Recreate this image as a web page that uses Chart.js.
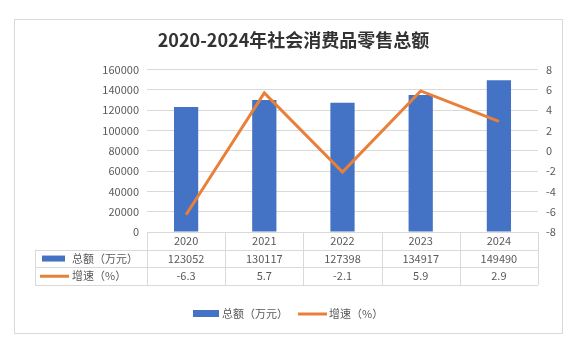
<!DOCTYPE html>
<html>
<head>
<meta charset="utf-8">
<script src="https://cdn.jsdelivr.net/npm/chart.js@4/dist/chart.umd.min.js"></script>
<style>
  html, body { margin: 0; padding: 0; background: #fff; }
  #wrap { position: relative; width: 587px; height: 351px; }
</style>
</head>
<body>
<div id="wrap"><canvas id="c"></canvas></div>
<script>
'use strict';

// data
const years = ['2020', '2021', '2022', '2023', '2024'];
const totals = [123052, 130117, 127398, 134917, 149490];
const growth = [-6.3, 5.7, -2.1, 5.9, 2.9];
const totalLabel = '总额（万元）';
const growthLabel = '增速（%）';
const titleText = '2020-2024年社会消费品零售总额';
const leftRange = { min: 0, max: 160000, step: 20000 };
const rightRange = { min: -8, max: 8, step: 2 };

const BLUE = '#4472C4';
const ORANGE = '#E8803A';
const GRID = '#d9d9d9';
const TEXT = '#595959';
const FONT = "'Noto Sans CJK SC', 'Noto Sans', sans-serif";

// frame, data table and legend in the Excel style
const tablePlugin = {
  id: 'excelTable',
  beforeDraw(chart) {
    const { ctx } = chart;
    ctx.save();
    ctx.fillStyle = '#fff';
    ctx.fillRect(0, 0, chart.width, chart.height);
    ctx.strokeStyle = GRID;
    ctx.lineWidth = 1;
    ctx.strokeRect(14.5, 19.5, 548, 314);
    ctx.restore();
  },
  afterDraw(chart) {
    const { ctx, chartArea } = chart;
    const x = chart.scales.x;
    const half = (x.getPixelForValue(1) - x.getPixelForValue(0)) / 2;
    const rowH = 17.7;
    const top = chartArea.bottom;
    const rows = [top, top + rowH, top + rowH * 2, top + rowH * 3];
    const tableLeft = 35;

    ctx.save();
    ctx.strokeStyle = GRID;
    ctx.lineWidth = 1;
    ctx.beginPath();
    ctx.moveTo(x.left, Math.round(rows[0]) + 0.5);
    ctx.lineTo(x.right, Math.round(rows[0]) + 0.5);
    for (let r = 1; r < 4; r++) {
      ctx.moveTo(tableLeft, Math.round(rows[r]) + 0.5);
      ctx.lineTo(x.right, Math.round(rows[r]) + 0.5);
    }
    for (let i = 0; i <= years.length; i++) {
      const px = Math.round(x.getPixelForValue(i) - half) + 0.5;
      ctx.moveTo(px, rows[0]);
      ctx.lineTo(px, rows[3]);
    }
    ctx.moveTo(tableLeft + 0.5, rows[1]);
    ctx.lineTo(tableLeft + 0.5, rows[3]);
    ctx.stroke();

    ctx.fillStyle = TEXT;
    ctx.font = '11px ' + FONT;
    ctx.textAlign = 'center';
    ctx.textBaseline = 'middle';
    years.forEach((yr, i) => {
      const cx = x.getPixelForValue(i);
      ctx.fillText(yr, cx, rows[0] + rowH / 2);
      ctx.fillText(String(totals[i]), cx, rows[1] + rowH / 2);
      ctx.fillText(growth[i].toFixed(1), cx, rows[2] + rowH / 2);
    });

    // series keys in the table
    ctx.textAlign = 'left';
    ctx.fillStyle = BLUE;
    ctx.fillRect(42, rows[1] + rowH / 2 - 3, 23, 6);
    ctx.strokeStyle = ORANGE;
    ctx.lineWidth = 3;
    ctx.beginPath();
    ctx.moveTo(40, rows[2] + rowH / 2);
    ctx.lineTo(69, rows[2] + rowH / 2);
    ctx.stroke();
    ctx.fillStyle = TEXT;
    ctx.fillText(totalLabel, 72, rows[1] + rowH / 2);
    ctx.fillText(growthLabel, 72, rows[2] + rowH / 2);

    // legend below the table
    const ly = 314;
    ctx.fillStyle = BLUE;
    ctx.fillRect(193, ly - 4, 26, 7);
    ctx.beginPath();
    ctx.moveTo(298, ly);
    ctx.lineTo(327, ly);
    ctx.stroke();
    ctx.fillStyle = TEXT;
    ctx.fillText(totalLabel, 222, ly);
    ctx.fillText(growthLabel, 329, ly);
    ctx.restore();
  }
};

new Chart(document.getElementById('c'), {
  type: 'bar',
  data: {
    labels: years,
    datasets: [
      {
        type: 'line',
        label: growthLabel,
        data: growth,
        yAxisID: 'y1',
        borderColor: ORANGE,
        backgroundColor: ORANGE,
        borderWidth: 3,
        pointRadius: 0,
        tension: 0,
        order: 0
      },
      {
        label: totalLabel,
        data: totals,
        yAxisID: 'y',
        backgroundColor: BLUE,
        barPercentage: 0.31,
        categoryPercentage: 1,
        order: 1
      }
    ]
  },
  options: {
    responsive: true,
    maintainAspectRatio: false,
    animation: false,
    layout: { padding: 0 },
    plugins: {
      legend: { display: false },
      tooltip: { enabled: false },
      title: {
        display: true,
        text: titleText,
        color: '#333333',
        font: { family: FONT, size: 18, weight: 'bold' },
        padding: { top: 29, bottom: 19 }
      }
    },
    scales: {
      x: {
        ticks: { display: false },
        grid: { display: false },
        border: { display: false },
        afterFit: s => { s.height = 119; }
      },
      y: {
        position: 'left',
        min: leftRange.min,
        max: leftRange.max,
        ticks: {
          stepSize: leftRange.step,
          color: TEXT,
          font: { family: FONT, size: 11 },
          padding: 8,
          callback: v => String(v)
        },
        grid: { color: GRID, drawTicks: false },
        border: { display: false },
        afterFit: s => { s.width = 147; }
      },
      y1: {
        position: 'right',
        min: rightRange.min,
        max: rightRange.max,
        ticks: { stepSize: rightRange.step, color: TEXT, font: { family: FONT, size: 11 }, padding: 8 },
        grid: { display: false, drawTicks: false },
        border: { display: false },
        afterFit: s => { s.width = 49; }
      }
    }
  },
  plugins: [tablePlugin]
});
</script>
</body>
</html>
